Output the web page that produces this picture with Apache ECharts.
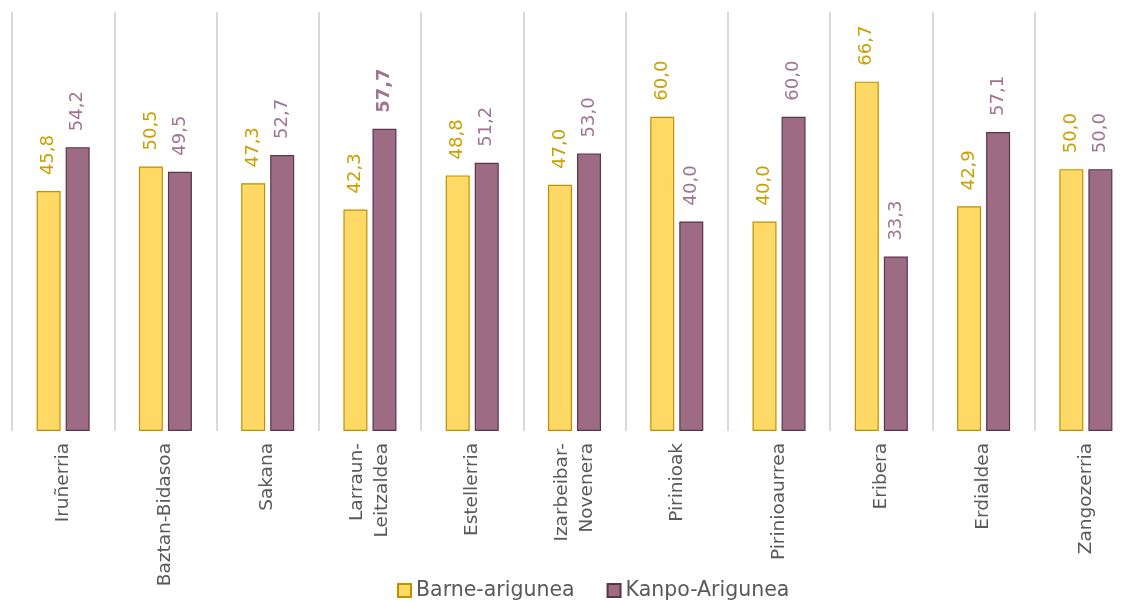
<!DOCTYPE html>
<html><head><meta charset="utf-8">
<script src="https://cdn.jsdelivr.net/npm/echarts@6/dist/echarts.min.js"></script>
<style>html,body{margin:0;padding:0;background:#fff}#c{width:1127px;height:602px}</style>
</head><body><div id="c"></div>
<script>
const categories = ['Iruñerria','Baztan-Bidasoa','Sakana','Larraun-\nLeitzaldea','Estellerria','Izarbeibar-\nNovenera','Pirinioak','Pirinioaurrea','Eribera','Erdialdea','Zangozerria'];
const seriesNames = ['Barne-arigunea','Kanpo-Arigunea'];
const barne = [45.8,50.5,47.3,42.3,48.8,47.0,60.0,40.0,66.7,42.9,50.0];
const kanpo = [54.2,49.5,52.7,57.7,51.2,53.0,40.0,60.0,33.3,57.1,50.0];
const kanpoBold = [3];

const FONT = 'DejaVu Sans';
const fmt = p => p.value.toFixed(1).replace('.', ',');
const chart = echarts.init(document.getElementById('c'), null, {renderer:'canvas'});
chart.setOption({
  animation:false,
  textStyle:{fontFamily:FONT},
  grid:{left:12, width:1125, top:12, height:419, containLabel:false, outerBoundsMode:'none'},
  legend:{bottom:-4, left:392, itemWidth:13, itemHeight:13, itemGap:32,
    textStyle:{fontSize:20.5, color:'#595959', fontFamily:FONT},
    data:seriesNames.map(n=>({name:n, icon:'rect'}))},
  xAxis:{type:'category', data:categories,
    axisLine:{show:false}, axisTick:{show:false},
    splitLine:{show:true, interval:0, lineStyle:{color:'#d9d9d9', width:2}},
    axisLabel:{rotate:90, interval:0, margin:12, fontSize:18.5, color:'#595959', lineHeight:25, fontFamily:FONT}},
  yAxis:{type:'value', min:0, max:80, show:false, splitLine:{show:false}},
  series:[
    {name:seriesNames[0], type:'bar', barWidth:24, barGap:'21%', data:barne,
     itemStyle:{color:'#FFD966', borderColor:'#BF9000', borderWidth:1.2},
     label:{show:true, position:'top', rotate:90, align:'left', verticalAlign:'middle', distance:16,
       formatter:fmt, fontSize:18, color:'#C9A000', fontFamily:FONT}},
    {name:seriesNames[1], type:'bar', barWidth:24, data:kanpo.map((v,i)=>kanpoBold.includes(i)?{value:v,label:{fontWeight:'bold'}}:v),
     itemStyle:{color:'#9D6B83', borderColor:'#5A3649', borderWidth:1.2},
     label:{show:true, position:'top', rotate:90, align:'left', verticalAlign:'middle', distance:16,
       formatter:fmt, fontSize:18, color:'#A07490', fontFamily:FONT}}
  ]
});
</script></body></html>
